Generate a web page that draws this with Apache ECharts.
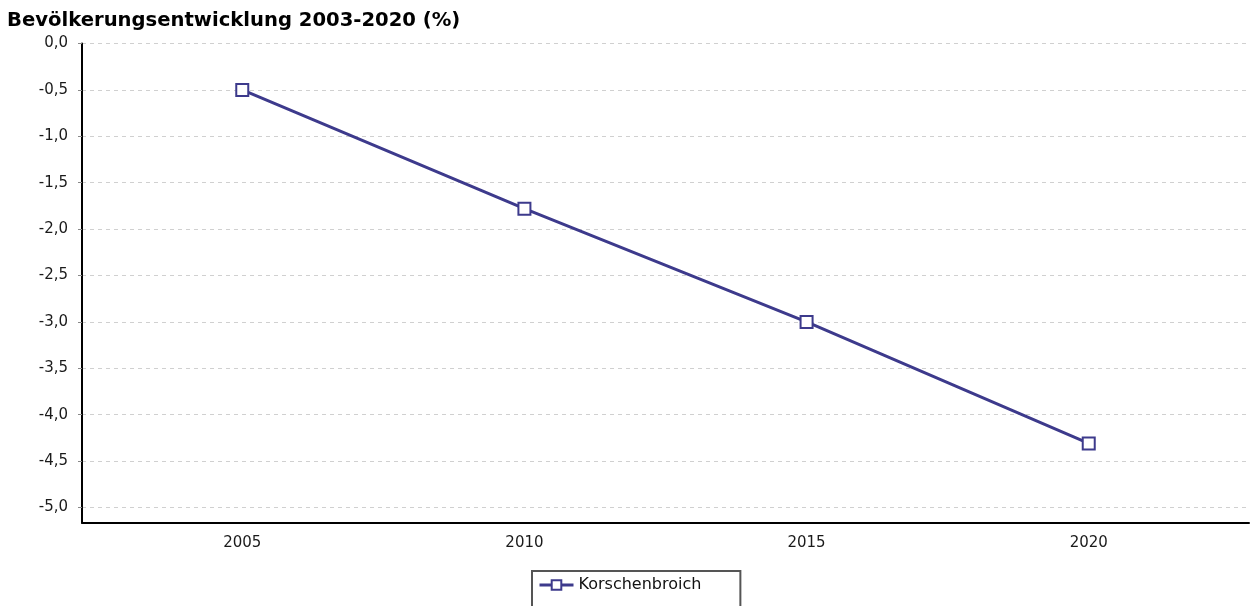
<!DOCTYPE html>
<html>
<head>
<meta charset="utf-8">
<script src="https://cdn.jsdelivr.net/npm/echarts@6/dist/echarts.min.js"></script>
<style>
  html, body { margin: 0; padding: 0; background: #fff; }
  #chart { width: 1252px; height: 606px; }
</style>
</head>
<body>
<div id="chart"></div>
<script>
const title = 'Bevölkerungsentwicklung 2003-2020 (%)'
const seriesName = 'Korschenbroich'
const years = [2005, 2010, 2015, 2020]
const values = [-0.5, -1.78, -3.0, -4.31]
const yTicks = [0, -0.5, -1, -1.5, -2, -2.5, -3, -3.5, -4, -4.5, -5]

const lineColor = '#3d3a8c'
const font = 'DejaVu Sans'

const chart = echarts.init(document.getElementById('chart'))

const option = {
  animation: false,
  backgroundColor: '#fff',
  title: {
    text: title,
    left: 7,
    top: 11,
    padding: 0,
    textStyle: {
      fontFamily: font,
      fontSize: 19.6,
      fontWeight: 'bold',
      color: '#000'
    }
  },
  legend: {
    data: [seriesName],
    left: 532,
    top: 571,
    padding: [6, 39, 14, 6],
    borderColor: '#555',
    borderWidth: 2,
    borderRadius: 0,
    itemWidth: 34,
    itemHeight: 12,
    itemGap: 8,
    lineStyle: { width: 3 },
    textStyle: { fontFamily: font, fontSize: 16, color: '#111' }
  },
  grid: {
    left: 82,
    right: 3,
    top: 43.5,
    bottom: 83.3,
    containLabel: false
  },
  xAxis: {
    type: 'value',
    min: 2002.16,
    max: 2022.84,
    axisLine: { show: true, onZero: false, lineStyle: { color: '#000', width: 2 } },
    axisTick: { show: false },
    splitLine: { show: false },
    axisLabel: {
      customValues: years,
      margin: 13,
      fontFamily: font,
      fontSize: 15,
      color: '#1a1a1a',
      formatter: v => String(v)
    }
  },
  yAxis: {
    type: 'value',
    min: -5.164,
    max: 0,
    axisLine: { show: true, onZero: false, lineStyle: { color: '#000', width: 2 } },
    axisTick: { show: true, customValues: yTicks, length: 4, lineStyle: { color: '#888' } },
    splitLine: { show: true, lineStyle: { color: '#d0d0d0', type: [4, 4], width: 1 } },
    axisLabel: {
      customValues: yTicks,
      margin: 14,
      fontFamily: font,
      fontSize: 15,
      color: '#1a1a1a',
      formatter: v => v.toFixed(1).replace('.', ',')
    }
  },
  series: [
    {
      name: seriesName,
      type: 'line',
      data: years.map((y, i) => [y, values[i]]),
      symbol: 'rect',
      symbolSize: 12,
      showAllSymbol: true,
      itemStyle: { color: '#fff', borderColor: lineColor, borderWidth: 2 },
      lineStyle: { color: lineColor, width: 3 }
    }
  ]
}

chart.setOption(option)
</script>
</body>
</html>
